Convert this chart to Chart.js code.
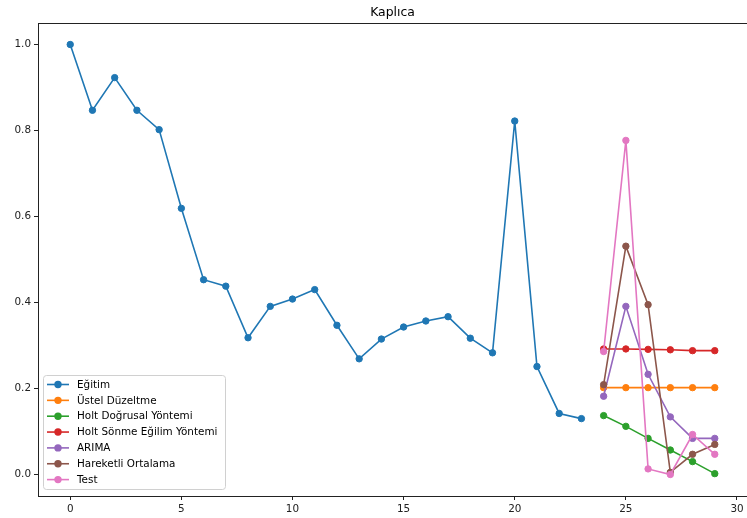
<!DOCTYPE html>
<html lang="tr">
<head>
    <meta charset="UTF-8">
    <title>Kaplıca</title>
    <script src="https://cdn.jsdelivr.net/npm/chart.js@4.4.1/dist/chart.umd.min.js"></script>
    <style>
        html, body { margin: 0; padding: 0; background: #fff; }
        #wrap { width: 747px; height: 518px; }
    </style>
</head>
<body>
    <div id="wrap"><canvas id="myChart" width="747" height="518"></canvas></div>

    <script>
        // data
        const chartTitle = "Kaplıca";
        const trainIdx = [0, 1, 2, 3, 4, 5, 6, 7, 8, 9, 10, 11, 12, 13, 14, 15, 16, 17, 18, 19, 20, 21, 22, 23];
        const testIdx = [24, 25, 26, 27, 28, 29];

        const egitim = [1.0, 0.847, 0.923, 0.847, 0.802, 0.619, 0.453, 0.438, 0.318, 0.391, 0.408, 0.430,
                        0.347, 0.269, 0.315, 0.343, 0.357, 0.367, 0.317, 0.283, 0.822, 0.251, 0.142, 0.130];
        const ustelDuzeltme = [0.202, 0.202, 0.202, 0.202, 0.202, 0.202];
        const holtDogrusal = [0.137, 0.112, 0.084, 0.057, 0.030, 0.002];
        const holtSonme = [0.292, 0.292, 0.291, 0.290, 0.288, 0.288];
        const arima = [0.182, 0.391, 0.233, 0.134, 0.084, 0.084];
        const hareketliOrtalama = [0.209, 0.531, 0.395, 0.005, 0.047, 0.070];
        const test = [0.286, 0.777, 0.013, 0.0, 0.093, 0.047];

        const xTicks = [0, 5, 10, 15, 20, 25, 30];
        const yTicks = [0.0, 0.2, 0.4, 0.6, 0.8, 1.0];

        const pts = (xs, ys) => xs.map((x, i) => ({ x: x, y: ys[i] }));

        const series = [
            { label: "Eğitim", color: "#1f77b4", data: pts(trainIdx, egitim) },
            { label: "Üstel Düzeltme", color: "#ff7f0e", data: pts(testIdx, ustelDuzeltme) },
            { label: "Holt Doğrusal Yöntemi", color: "#2ca02c", data: pts(testIdx, holtDogrusal) },
            { label: "Holt Sönme Eğilim Yöntemi", color: "#d62728", data: pts(testIdx, holtSonme) },
            { label: "ARIMA", color: "#9467bd", data: pts(testIdx, arima) },
            { label: "Hareketli Ortalama", color: "#8c564b", data: pts(testIdx, hareketliOrtalama) },
            { label: "Test", color: "#e377c2", data: pts(testIdx, test) }
        ];

        const FONT = "DejaVu Sans";

        // matplotlib-like frame, title and legend box
        const mplDecor = {
            id: "mplDecor",
            afterDatasetsDraw(chart) {
                const ctx = chart.ctx;
                const a = chart.chartArea;
                ctx.save();
                ctx.strokeStyle = "#222";
                ctx.lineWidth = 1;
                ctx.strokeRect(Math.round(a.left) + 0.5, Math.round(a.top) + 0.5,
                               Math.round(a.right - a.left), Math.round(a.bottom - a.top));

                // title
                ctx.fillStyle = "#000";
                ctx.font = "12.4px '" + FONT + "'";
                ctx.textAlign = "center";
                ctx.textBaseline = "middle";
                ctx.fillText(chartTitle, (a.left + a.right) / 2, 12.5);

                // legend
                const bx = 43.5, by = 375.5, bw = 182, bh = 114;
                ctx.beginPath();
                ctx.roundRect(bx, by, bw, bh, 3);
                ctx.fillStyle = "rgba(255,255,255,0.8)";
                ctx.fill();
                ctx.strokeStyle = "#d0d0d0";
                ctx.stroke();

                ctx.font = "10.4px '" + FONT + "'";
                ctx.textAlign = "left";
                series.forEach((s, i) => {
                    const y = 384.5 + i * 15.85;
                    ctx.strokeStyle = s.color;
                    ctx.lineWidth = 1.6;
                    ctx.beginPath();
                    ctx.moveTo(47, y);
                    ctx.lineTo(69, y);
                    ctx.stroke();
                    ctx.beginPath();
                    ctx.arc(58, y, 3.7, 0, Math.PI * 2);
                    ctx.fillStyle = s.color;
                    ctx.fill();
                    ctx.fillStyle = "#000";
                    ctx.fillText(s.label, 77, y + 0.5);
                });
                ctx.restore();
            }
        };

        new Chart("myChart", {
            type: "line",
            data: {
                datasets: series.map((s, i) => ({
                    label: s.label,
                    data: s.data,
                    borderColor: s.color,
                    backgroundColor: s.color,
                    pointBackgroundColor: s.color,
                    pointBorderColor: s.color,
                    borderWidth: 1.6,
                    pointRadius: 3.2,
                    pointBorderWidth: 1,
                    tension: 0,
                    fill: false,
                    clip: false,
                    order: series.length - i
                }))
            },
            options: {
                responsive: false,
                animation: false,
                events: [],
                layout: { autoPadding: false, padding: { top: 23, right: 0, bottom: 0, left: 0 } },
                plugins: {
                    legend: { display: false },
                    title: { display: false },
                    tooltip: { enabled: false }
                },
                scales: {
                    x: {
                        type: "linear",
                        min: -1.45,
                        max: 30.45,
                        afterBuildTicks: (scale) => { scale.ticks = xTicks.map(v => ({ value: v })); },
                        afterFit: (scale) => { scale.height = 22; scale.paddingLeft = 0; scale.paddingRight = 0; },
                        grid: { drawOnChartArea: false, drawTicks: true, tickLength: 4, tickColor: "#222", tickWidth: 1 },
                        border: { display: true, color: "#222", width: 1 },
                        ticks: {
                            padding: 3,
                            color: "#222",
                            font: { family: FONT, size: 10.4 },
                            callback: (v) => String(v)
                        }
                    },
                    y: {
                        type: "linear",
                        min: -0.05,
                        max: 1.05,
                        afterBuildTicks: (scale) => { scale.ticks = yTicks.map(v => ({ value: v })); },
                        afterFit: (scale) => { scale.width = 38; scale.paddingTop = 0; scale.paddingBottom = 0; },
                        grid: { drawOnChartArea: false, drawTicks: true, tickLength: 4, tickColor: "#222", tickWidth: 1 },
                        border: { display: true, color: "#222", width: 1 },
                        ticks: {
                            padding: 3,
                            color: "#222",
                            font: { family: FONT, size: 10.4 },
                            callback: (v) => v.toFixed(1)
                        }
                    }
                }
            },
            plugins: [mplDecor]
        });
    </script>
</body>
</html>
